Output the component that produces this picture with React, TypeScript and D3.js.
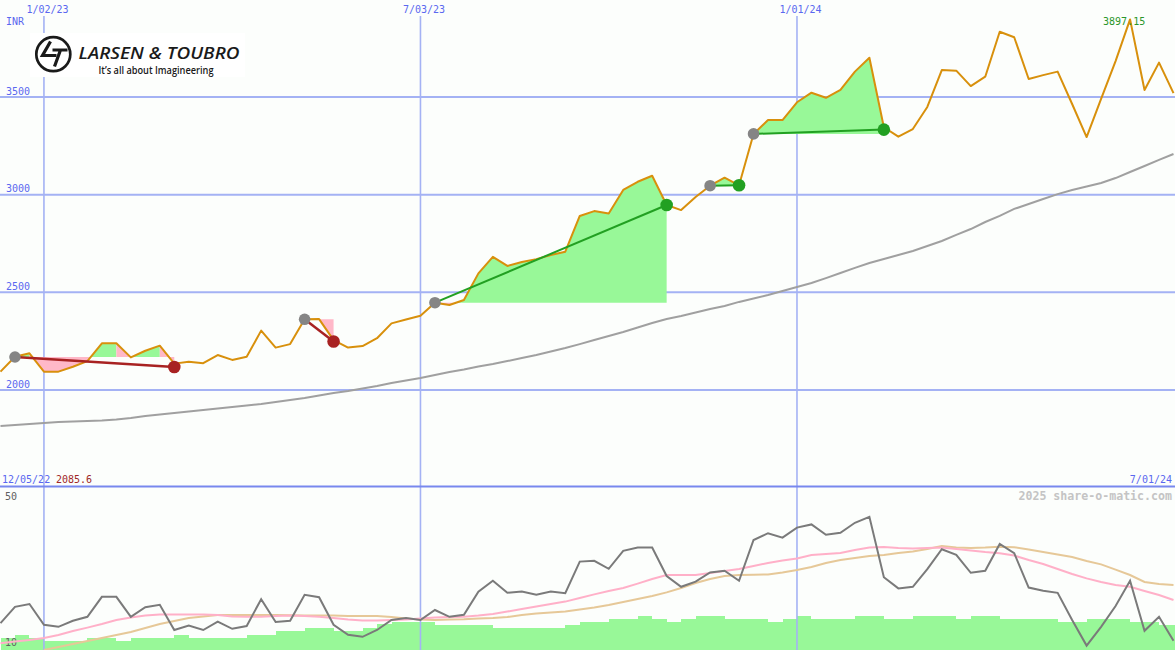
import React, { useEffect } from 'react';
import * as d3 from 'd3';

const W = 1175;
const H = 650;

// weekly closes, week 0 = 12/12/22 ... week 81 = 7/01/24
const closes = [
  2094, 2170, 2188, 2094, 2094, 2119, 2148, 2239, 2239, 2167,
  2201, 2227, 2135, 2145, 2137, 2179, 2154, 2170, 2304, 2217,
  2235, 2362, 2363, 2255, 2217, 2225, 2265, 2341, 2361, 2380,
  2447, 2435, 2461, 2597, 2682, 2635, 2655, 2670, 2691, 2708,
  2891, 2916, 2904, 3024, 3066, 3097, 2947, 2921, 2988, 3046,
  3087, 3048, 3311, 3382, 3382, 3473, 3522, 3496, 3536, 3630,
  3701, 3345, 3297, 3336, 3449, 3638, 3635, 3556, 3604, 3834,
  3806, 3592, 3612, 3630, 3464, 3295, 3490, 3684, 3897.15, 3536,
  3676, 3520,
];

// long moving average (grey)
const movingAvg = [
  1816, 1821, 1826, 1831, 1836, 1839, 1841, 1844, 1849, 1857,
  1867, 1875, 1882, 1890, 1898, 1905, 1913, 1921, 1928, 1939,
  1949, 1959, 1972, 1985, 1995, 2008, 2020, 2036, 2049, 2061,
  2077, 2092, 2105, 2120, 2133, 2148, 2164, 2179, 2197, 2215,
  2235, 2256, 2276, 2297, 2320, 2343, 2363, 2379, 2397, 2415,
  2430, 2451, 2468, 2486, 2507, 2527, 2548, 2573, 2599, 2625,
  2650, 2671, 2691, 2712, 2737, 2763, 2794, 2824, 2860, 2891,
  2927, 2952, 2978, 3003, 3024, 3042, 3060, 3085, 3116, 3147,
  3178, 3208,
];

// lower panel: oscillator (dark grey)
const oscillator = [
  16.7, 20.8, 21.5, 16.3, 15.8, 17.3, 18.3, 23.3, 23.3, 18.3,
  20.7, 21.3, 15.0, 16.1, 15.0, 17.1, 15.3, 16.0, 22.7, 17.0,
  17.3, 23.8, 23.2, 16.3, 13.8, 13.3, 15.0, 17.5, 18.0, 17.5,
  20.0, 18.3, 18.8, 24.6, 27.3, 24.3, 24.6, 23.8, 24.6, 24.2,
  32.1, 32.3, 30.3, 34.8, 35.6, 35.6, 28.5, 25.8, 27.1, 29.4,
  29.8, 27.3, 37.5, 39.2, 38.1, 40.6, 41.4, 38.8, 39.3, 41.8,
  43.3, 28.2, 25.4, 25.8, 30.2, 35.2, 33.8, 29.3, 29.8, 36.5,
  34.2, 25.6, 24.8, 24.3, 17.5, 11.1, 15.8, 21.0, 27.3, 14.8,
  18.3, 12.3,
];

// lower panel: fast average (pink)
const fastAvg = [
  11.7, 12.1, 12.5, 13.0, 13.75, 14.75, 15.6, 16.5, 17.5, 18.1,
  18.6, 18.9, 18.9, 18.9, 18.9, 18.75, 18.4, 18.3, 18.3, 18.5,
  18.6, 18.5, 18.3, 18.0, 17.6, 17.4, 17.4, 17.5, 17.6, 17.9,
  18.1, 18.25, 18.3, 18.6, 19.0, 19.6, 20.25, 20.9, 21.5, 22.1,
  23.0, 23.9, 24.75, 25.5, 26.6, 27.75, 28.75, 28.75, 28.75, 29.25,
  29.75, 30.25, 31.0, 31.75, 32.4, 32.9, 33.75, 34.0, 34.25, 35.0,
  35.6, 35.75, 35.5, 35.4, 35.5, 35.6, 35.25, 34.9, 34.5, 34.2,
  33.6, 32.5, 31.5, 30.25, 29.0, 27.9, 27.0, 26.25, 25.8, 24.75,
  23.75, 22.5,
];

// lower panel: slow average (tan)
const slowAvg: (number | null)[] = [
  null, null, null, 10.0, 10.75, 11.5, 12.25, 13.0, 13.75, 14.5,
  15.5, 16.5, 17.25, 18.0, 18.4, 18.75, 18.75, 18.75, 18.75, 18.75,
  18.7, 18.6, 18.6, 18.6, 18.5, 18.5, 18.5, 18.25, 17.9, 17.6,
  17.5, 17.6, 17.7, 17.9, 18.0, 18.25, 18.75, 19.1, 19.4, 19.6,
  20.1, 20.6, 21.25, 22.0, 22.75, 23.5, 24.4, 25.5, 26.75, 27.75,
  28.5, 28.75, 28.8, 28.9, 29.4, 30.0, 30.75, 31.75, 32.5, 33.0,
  33.5, 33.75, 34.25, 34.6, 35.25, 36.0, 35.6, 35.5, 35.6, 35.8,
  35.7, 35.1, 34.5, 33.9, 33.25, 32.25, 31.4, 30.1, 28.75, 27.0,
  26.5, 26.25,
];

// lower panel: green bars
const barValues = [
  12.9, 13.75, 12.9, 12.25, 12.25, 12.25, 12.9, 12.9, 12.25, 13.1,
  13.1, 13.1, 13.75, 13.1, 13.1, 13.1, 13.1, 13.75, 13.75, 14.75,
  14.75, 15.6, 15.6, 14.75, 14.75, 15.6, 16.4, 17.1, 17.1, 17.1,
  16.25, 16.25, 16.25, 16.25, 15.6, 15.6, 15.6, 15.6, 15.6, 16.25,
  16.9, 16.9, 17.75, 17.75, 18.5, 17.75, 17.1, 17.75, 18.5, 18.5,
  17.75, 17.75, 17.75, 17.1, 17.75, 18.5, 17.75, 17.75, 17.75, 18.5,
  18.5, 17.75, 17.75, 18.5, 18.5, 18.5, 17.75, 18.5, 18.5, 17.75,
  17.75, 17.75, 17.75, 17.1, 17.1, 17.75, 17.75, 17.75, 17.1, 17.1,
  16.25, 16.25,
];

// trades
const tradeEntryIdx = [1, 21, 30, 49, 52];
const tradeExitIdx = [12, 23, 46, 51, 61];
const tradeEntryPrice = [2169, 2362, 2447, 3046, 3311];
const tradeExitPrice = [2118, 2248, 2947, 3048, 3333];

// axes
const priceTicks = [2000, 2500, 3000, 3500];
const dateTickIdx = [3, 29, 55];
const dateTickLabels = ['1/02/23', '7/03/23', '1/01/24'];
const startLabel = '12/05/22';
const endLabel = '7/01/24';
const lowLabel = '2085.6';
const highLabel = '3897.15';
const highIdx = 78;
const lowerTicks = [50, 10];

const GREEN_FILL = '#98f898';
const PINK_FILL = '#ffb8c8';
const GRID = '#a4b2f4';
const BLUE_TEXT = '#5a68f0';
const MONO = '"DejaVu Sans Mono", monospace';

export default function App() {
  useEffect(() => {
    document.body.style.margin = '0';
  }, []);

  const x = d3.scaleLinear().domain([0, 81]).range([0.5, 1173.5]);
  const y = d3.scaleLinear().domain([2000, 3500]).range([390, 97]);
  const yb = d3.scaleLinear().domain([10, 50]).range([650, 490]);

  const priceLine = d3
    .line<number>()
    .x((_, i) => x(i))
    .y((d) => y(d));
  const lowerLine = d3
    .line<number | null>()
    .defined((d) => d != null)
    .x((_, i) => x(i))
    .y((d) => yb(d as number));
  const barArea = d3
    .area<number>()
    .curve(d3.curveStepAfter)
    .x((_, i) => x(i))
    .y0(650)
    .y1((d) => yb(d));

  // trade fills: polygons between price and entry level, merged per colour
  let greenPath = '';
  let pinkPath = '';
  tradeEntryIdx.forEach((e, t) => {
    const ex = tradeExitIdx[t];
    const E = tradeEntryPrice[t];
    const win = tradeExitPrice[t] >= E;
    const add = (color: string, a: number, pa: number, b: number, pb: number) => {
      const d = `M${x(a)},${y(pa)}L${x(b)},${y(pb)}L${x(b)},${y(E)}L${x(a)},${y(E)}Z`;
      if (color === GREEN_FILL) greenPath += d;
      else pinkPath += d;
    };
    for (let i = e; i < ex; i++) {
      const p0 = closes[i];
      const p1 = closes[i + 1];
      const rising = p1 >= p0;
      const aboveColor = win || rising ? GREEN_FILL : PINK_FILL;
      if ((p0 - E) * (p1 - E) >= 0) {
        const above = p0 + p1 >= 2 * E;
        add(above ? aboveColor : PINK_FILL, i, p0, i + 1, p1);
      } else {
        const tt = (E - p0) / (p1 - p0);
        const xm = i + tt;
        add(p0 > E ? aboveColor : PINK_FILL, i, p0, xm, E);
        add(p1 > E ? aboveColor : PINK_FILL, xm, E, i + 1, p1);
      }
    }
  });

  const barData = [...barValues, barValues[barValues.length - 1]];

  return (
    <svg
      width={W}
      height={H}
      style={{ position: 'absolute', left: 0, top: 0, display: 'block' }}
      fontFamily={MONO}
    >
      <rect x={0} y={0} width={W} height={H} fill="#fcfefc" />

      {/* lower panel bars */}
      <path d={barArea(barData) || ''} fill={GREEN_FILL} shapeRendering="crispEdges" />

      {/* vertical date lines */}
      {dateTickIdx.map((i, k) => (
        <g key={'vt' + k}>
          <line x1={x(i)} x2={x(i)} y1={16} y2={H} stroke={GRID} strokeWidth={1.6} />
          <text x={x(i) - 17.5} y={12.5} fontSize={10} fill={BLUE_TEXT}>
            {dateTickLabels[k]}
          </text>
        </g>
      ))}

      {/* horizontal grid */}
      {priceTicks.map((v) => (
        <g key={'h' + v}>
          <line x1={0} x2={W} y1={y(v)} y2={y(v)} stroke={GRID} strokeWidth={2} />
          <text x={6} y={y(v) - 2.5} fontSize={10} fill={BLUE_TEXT}>
            {v}
          </text>
        </g>
      ))}
      <text x={6} y={25} fontSize={10} fill={BLUE_TEXT}>
        INR
      </text>

      {/* logo */}
      <rect x={30} y={33} width={215} height={44} fill="#ffffff" />
      <circle cx={53.3} cy={54.2} r={17} fill="none" stroke="#1a1a1a" strokeWidth={2.7} />
      <path d="M50.5,41.5 L42.5,55.5 L56.5,55.5" fill="none" stroke="#1a1a1a" strokeWidth={3.2} strokeLinejoin="miter" />
      <path d="M52.5,50 L67.5,50 M60.5,50 L54.5,66.5" fill="none" stroke="#1a1a1a" strokeWidth={3.2} />
      <text
        x={78.5}
        y={58.5}
        fontFamily='"Open Sans", "Noto Sans", sans-serif'
        fontStyle="italic"
        fontWeight={600}
        fontSize={16}
        fill="#1a1a1a"
        textLength={161}
        lengthAdjust="spacingAndGlyphs"
      >
        LARSEN &amp; TOUBRO
      </text>
      <text
        x={98.5}
        y={74}
        fontFamily='"Open Sans", "Noto Sans", sans-serif'
        fontWeight={600}
        fontSize={10}
        fill="#1a1a1a"
        textLength={115}
        lengthAdjust="spacingAndGlyphs"
      >
        It’s all about Imagineering
      </text>

      {/* trade fills */}
      <path d={greenPath} fill={GREEN_FILL} />
      <path d={pinkPath} fill={PINK_FILL} />

      {/* long moving average */}
      <path d={priceLine(movingAvg) || ''} fill="none" stroke="#a0a0a0" strokeWidth={2} />

      {/* price */}
      <path d={priceLine(closes) || ''} fill="none" stroke="#d8900c" strokeWidth={2} strokeLinejoin="round" />

      {/* trade lines and dots */}
      {tradeEntryIdx.map((e, t) => {
        const ex = tradeExitIdx[t];
        const win = tradeExitPrice[t] >= tradeEntryPrice[t];
        const col = win ? '#22a022' : '#a82222';
        return (
          <g key={'t' + t}>
            <line
              x1={x(e)}
              y1={y(tradeEntryPrice[t])}
              x2={x(ex)}
              y2={y(tradeExitPrice[t])}
              stroke={col}
              strokeWidth={win ? 2 : 2.5}
            />
            <circle cx={x(e)} cy={y(tradeEntryPrice[t])} r={5.8} fill="#858585" />
            <circle cx={x(ex)} cy={y(tradeExitPrice[t])} r={6.3} fill={col} />
          </g>
        );
      })}

      {/* high label */}
      <text x={x(highIdx) - 27} y={25} fontSize={10} fill="#2a962a">
        {highLabel}
      </text>

      {/* separator & lower panel */}
      <line x1={0} x2={W} y1={486.5} y2={486.5} stroke="#7888ee" strokeWidth={2} />
      <text x={2} y={482.5} fontSize={10} fill={BLUE_TEXT}>
        {startLabel}
      </text>
      <text x={56} y={482.5} fontSize={10} fill="#a02828">
        {lowLabel}
      </text>
      <text x={1172} y={482.5} fontSize={10} fill={BLUE_TEXT} textAnchor="end">
        {endLabel}
      </text>
      <text x={1172} y={500} fontSize={11.6} fontWeight="bold" fill="#c4c4c4" textAnchor="end">
        2025 share-o-matic.com
      </text>
      <text x={5} y={499.5} fontSize={10} fill="#606060">
        {lowerTicks[0]}
      </text>
      <text x={5} y={646} fontSize={10} fill="#606060">
        {lowerTicks[1]}
      </text>

      <path d={lowerLine(slowAvg) || ''} fill="none" stroke="#e6c898" strokeWidth={2} />
      <path d={lowerLine(fastAvg) || ''} fill="none" stroke="#ffb0c8" strokeWidth={2} />
      <path d={lowerLine(oscillator) || ''} fill="none" stroke="#7a7a7a" strokeWidth={2} />
    </svg>
  );
}
